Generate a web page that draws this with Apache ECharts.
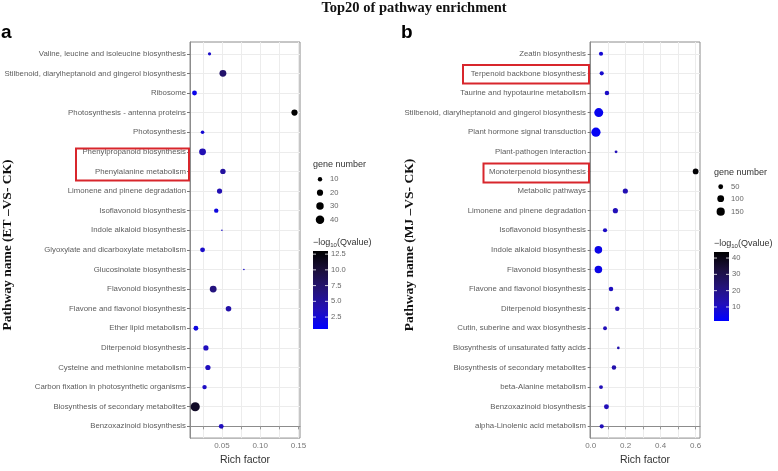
<!DOCTYPE html>
<html>
<head>
<meta charset="utf-8">
<script src="https://cdn.jsdelivr.net/npm/echarts@6/dist/echarts.min.js"></script>
<style>html,body{margin:0;padding:0;background:#fff}#c{width:778px;height:471px}</style>
</head>
<body>
<div id="c"></div>
<script>
// ---------- DATA (categories listed bottom-to-top) ----------
const catsA = [
  "Benzoxazinoid biosynthesis",
  "Biosynthesis of secondary metabolites",
  "Carbon fixation in photosynthetic organisms",
  "Cysteine and methionine metabolism",
  "Diterpenoid biosynthesis",
  "Ether lipid metabolism",
  "Flavone and flavonol biosynthesis",
  "Flavonoid biosynthesis",
  "Glucosinolate biosynthesis",
  "Glyoxylate and dicarboxylate metabolism",
  "Indole alkaloid biosynthesis",
  "Isoflavonoid biosynthesis",
  "Limonene and pinene degradation",
  "Phenylalanine metabolism",
  "Phenylpropanoid biosynthesis",
  "Photosynthesis",
  "Photosynthesis - antenna proteins",
  "Ribosome",
  "Stilbenoid, diarylheptanoid and gingerol biosynthesis",
  "Valine, leucine and isoleucine biosynthesis"
];
const richA  = [0.0491,0.0151,0.0273,0.0317,0.0291,0.0160,0.0586,0.0386,0.0787,0.0247,0.0500,0.0426,0.0469,0.0513,0.0247,0.0247,0.1448,0.0142,0.0513,0.0338];
const genesA = [12,48,10,14,14,12,16,25,4,12,4,10,14,15,25,7,20,12,25,6];
const qA     = [3.5,11.0,3.2,3.5,3.5,2.0,4.5,6.5,3.0,3.0,3.0,2.0,4.0,5.0,4.0,2.5,13.0,1.5,7.5,3.0];

const catsB = [
  "alpha-Linolenic acid metabolism",
  "Benzoxazinoid biosynthesis",
  "beta-Alanine metabolism",
  "Biosynthesis of secondary metabolites",
  "Biosynthesis of unsaturated fatty acids",
  "Cutin, suberine and wax biosynthesis",
  "Diterpenoid biosynthesis",
  "Flavone and flavonol biosynthesis",
  "Flavonoid biosynthesis",
  "Indole alkaloid biosynthesis",
  "Isoflavonoid biosynthesis",
  "Limonene and pinene degradation",
  "Metabolic pathways",
  "Monoterpenoid biosynthesis",
  "Plant-pathogen interaction",
  "Plant hormone signal transduction",
  "Stilbenoid, diarylheptanoid and gingerol biosynthesis",
  "Taurine and hypotaurine metabolism",
  "Terpenoid backbone biosynthesis",
  "Zeatin biosynthesis"
];
const richB  = [0.063,0.090,0.059,0.133,0.158,0.082,0.152,0.116,0.044,0.044,0.082,0.141,0.198,0.600,0.145,0.030,0.046,0.093,0.063,0.059];
const genesB = [37,51,32,43,17,32,43,43,125,125,37,57,57,70,19,190,181,43,37,37];
const qB     = [12,12,12,14,14,12,13,11,5,5,10,12,13,43,12,3,4,10,9,8];

const xTicksA = [0.05, 0.10, 0.15];
const xGridA  = [0.025, 0.05, 0.075, 0.10, 0.125, 0.15];
const xTicksB = [0.0, 0.2, 0.4, 0.6];
const xGridB  = [0.0, 0.1, 0.2, 0.3, 0.4, 0.5, 0.6];
const sizeBreaksA = [10, 20, 30, 40];
const sizeBreaksB = [50, 100, 150];
const colorBreaksA = [12.5, 10.0, 7.5, 5.0, 2.5];
const colorBreaksB = [40, 30, 20, 10];

// ---------- SCALES / STYLE ----------
const qRangeA = [0.6, 13.0];
const qRangeB = [1.4, 43.7];
const rampLowToHigh = ['#0000FF', '#220FB9', '#241378', '#1B0F3C', '#000000'];
function sizeA(n){ return 1.6 + 7.6 * Math.sqrt(Math.max(0,(n-4))/44); }
function sizeB(n){ return 1.0 + 8.2 * Math.sqrt(Math.max(0,(n-10))/180); }

const LABEL_FONT = 'Liberation Sans, Arial, sans-serif';
const SERIF = 'Liberation Serif, Times New Roman, serif';
const labelColor = '#5c5c5c';
const gridColor = '#ececec';
const borderColor = '#8c8c8c';

const GA = {left:190, top:42, width:110, height:405};
const GB = {left:590, top:42, width:110, height:405};

const idxA = catsA.map((_, i) => i);
const idxB = catsB.map((_, i) => i);

function yAxisFor(gi, cats, idx){
  return {
    gridIndex: gi, type: 'value', min: -0.6, max: cats.length - 0.4,
    axisLine: {show: true, lineStyle: {color: borderColor}},
    axisTick: {show: true, length: 3, customValues: idx, lineStyle: {color: '#777'}},
    axisLabel: {customValues: idx, formatter: v => cats[Math.round(v)] || '', fontSize: 7.8,
                fontFamily: LABEL_FONT, color: labelColor, margin: 4},
    splitLine: {show: true, lineStyle: {color: gridColor, width: 1}}
  };
}
function xAxisFor(gi, mn, mx, ticks, gridVals, digits){
  return {
    gridIndex: gi, type: 'value', min: mn, max: mx,
    axisLine: {show: true, lineStyle: {color: borderColor}},
    axisTick: {show: true, length: 3, customValues: gridVals, lineStyle: {color: '#999'}},
    axisLabel: {customValues: ticks, formatter: v => v.toFixed(digits), fontSize: 8,
                fontFamily: LABEL_FONT, color: '#777', margin: 4},
    splitLine: {show: true, lineStyle: {color: gridColor, width: 1}},
    name: 'Rich factor', nameLocation: 'middle', nameGap: 15,
    nameTextStyle: {fontSize: 10.5, fontFamily: LABEL_FONT, color: '#333'}
  };
}

const dataA = catsA.map((c, i) => [richA[i], i, genesA[i], qA[i]]);
const dataB = catsB.map((c, i) => [richB[i], i, genesB[i], qB[i]]);

// ---------- LEGENDS (graphic) ----------
const graphics = [];
function text(x, y, s, style){
  graphics.push({type:'text', x, y, style: Object.assign({text: s, fontFamily: LABEL_FONT}, style)});
}
// title & panel letters
text(414, 8, 'Top20 of pathway enrichment', {fontFamily: SERIF, fontWeight:'bold', fontSize: 14.5, fill:'#111', textAlign:'center', textVerticalAlign:'middle'});
text(1, 42, 'a', {fontWeight:'bold', fontSize: 19, fill:'#000', textVerticalAlign:'bottom'});
text(401, 42, 'b', {fontWeight:'bold', fontSize: 19, fill:'#000', textVerticalAlign:'bottom'});
// y-axis titles
graphics.push({type:'text', x: 8, y: 245, rotation: Math.PI/2,
  style:{text:'Pathway name (ET –VS- CK)', fontFamily: SERIF, fontWeight:'bold', fontSize: 13.5, fill:'#111', textAlign:'center', textVerticalAlign:'middle'}});
graphics.push({type:'text', x: 410, y: 245, rotation: Math.PI/2,
  style:{text:'Pathway name (MJ –VS- CK)', fontFamily: SERIF, fontWeight:'bold', fontSize: 13.5, fill:'#111', textAlign:'center', textVerticalAlign:'middle'}});

function sizeLegend(x0, yTitle, ys, breaks, sizeFn, dotX, txtX){
  text(x0, yTitle, 'gene number', {fontSize: 9, fill:'#333', textVerticalAlign:'middle'});
  breaks.forEach((b, i) => {
    const r = sizeFn(b) / 2;
    graphics.push({type:'circle', shape:{cx: dotX, cy: ys[i], r}, style:{fill:'#000'}});
    text(txtX, ys[i], String(b), {fontSize: 7.6, fill:'#666', textVerticalAlign:'middle'});
  });
}
sizeLegend(313, 165, [179.3, 192.7, 206, 219.7], sizeBreaksA, sizeA, 320, 330);
sizeLegend(714, 173, [186.7, 198.7, 211.7], sizeBreaksB, sizeB, 720.7, 731);

function colorBar(x0, yTitle, top, bottom, range, breaks, digits){
  graphics.push({type:'text', x: x0, y: yTitle, style:{
    text: '−log{s|10}(Qvalue)', fontFamily: LABEL_FONT, fontSize: 9, fill:'#333', textVerticalAlign:'middle',
    rich: {s: {fontSize: 6, fontFamily: LABEL_FONT, fill:'#333', verticalAlign:'bottom', padding:[5,0,0,0]}}}});
  const w = 15;
  const stops = rampLowToHigh.slice().reverse().map((c, i, a) => ({offset: i/(a.length-1), color: c}));
  graphics.push({type:'rect', shape:{x: x0, y: top, width: w, height: bottom-top},
    style:{fill: new echarts.graphic.LinearGradient(0,0,0,1, stops)}});
  breaks.forEach(b => {
    const y = bottom - (b - range[0]) / (range[1] - range[0]) * (bottom - top);
    graphics.push({type:'line', shape:{x1:x0, y1:y, x2:x0+3, y2:y}, style:{stroke:'#fff', lineWidth:0.8}});
    graphics.push({type:'line', shape:{x1:x0+w-3, y1:y, x2:x0+w, y2:y}, style:{stroke:'#fff', lineWidth:0.8}});
    text(x0 + w + 3, y, b.toFixed(digits), {fontSize: 7.6, fill:'#666', textVerticalAlign:'middle'});
  });
}
colorBar(313, 243, 251, 329, qRangeA, colorBreaksA, 1);
colorBar(714, 244, 252, 321, qRangeB, colorBreaksB, 0);

// red highlight boxes
function redBox(x1, y1, x2, y2){
  graphics.push({type:'rect', shape:{x:x1, y:y1, width:x2-x1, height:y2-y1},
    style:{fill:'none', stroke:'#d8262c', lineWidth:2}, z: 100});
}
redBox(76, 148.5, 189, 180.5);
redBox(463, 65, 589, 83.5);
redBox(483.5, 163.5, 589, 182.5);

const option = {
  animation: false,
  backgroundColor: '#fff',
  grid: [
    Object.assign({show:true, borderColor: borderColor, borderWidth: 1, backgroundColor:'#fff'}, GA),
    Object.assign({show:true, borderColor: borderColor, borderWidth: 1, backgroundColor:'#fff'}, GB)
  ],
  xAxis: [
    xAxisFor(0, 0.0083, 0.152, xTicksA, xGridA, 2),
    xAxisFor(1, -0.004, 0.625, xTicksB, xGridB, 1)
  ],
  yAxis: [yAxisFor(0, catsA, idxA), yAxisFor(1, catsB, idxB)],
  visualMap: [
    {type:'continuous', show:false, seriesIndex:0, dimension:3, min:qRangeA[0], max:qRangeA[1], inRange:{color: rampLowToHigh}},
    {type:'continuous', show:false, seriesIndex:1, dimension:3, min:qRangeB[0], max:qRangeB[1], inRange:{color: rampLowToHigh}}
  ],
  series: [
    {type:'scatter', xAxisIndex:0, yAxisIndex:0, data: dataA, symbol:'circle',
     symbolSize: v => sizeA(v[2]), itemStyle:{opacity:1}},
    {type:'scatter', xAxisIndex:1, yAxisIndex:1, data: dataB, symbol:'circle',
     symbolSize: v => sizeB(v[2]), itemStyle:{opacity:1}}
  ],
  graphic: graphics
};
const chart = echarts.init(document.getElementById('c'), null, {renderer:'canvas'});
chart.setOption(option);
</script>
</body>
</html>
